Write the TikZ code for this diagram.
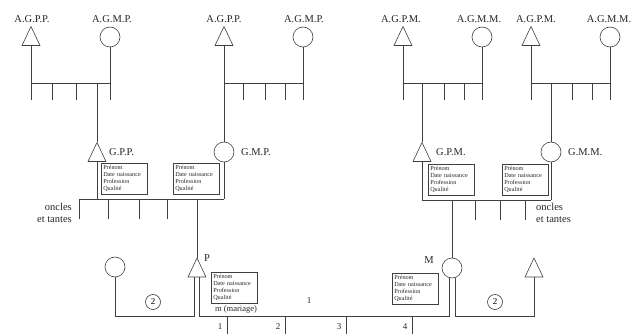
\documentclass[tikz,border=0pt]{standalone}
\usepackage{fontspec}
\setmainfont{Liberation Serif}
\begin{document}
\begin{tikzpicture}[x=1pt,y=-1pt,
  ln/.style={draw=black!75, line width=0.6pt},
  tri/.style={minimum width=18pt, minimum height=19pt, inner sep=0pt, outer sep=0pt,
    append after command={\pgfextra{\draw[ln, line join=miter] (\tikzlastnode.south west) -- (\tikzlastnode.north) -- (\tikzlastnode.south east) -- cycle;}}},
  circ/.style={circle, ln, minimum size=20pt, inner sep=0pt, outer sep=0pt},
  mark2/.style={circle, ln, minimum size=15pt, inner sep=0pt, font=\fontsize{9}{10}\selectfont},
  lab/.style={inner sep=0pt, font=\fontsize{10.5}{12}\selectfont, text=black!85},
  small/.style={inner sep=0pt, font=\fontsize{9}{10}\selectfont, text=black!85},
  infobox/.style={draw=black!75, line width=0.5pt, anchor=north west, minimum width=46pt, minimum height=31pt,
    text width=42pt, inner sep=2pt, align=left, font=\fontsize{6.2}{7}\selectfont, text=black!85},
]
\useasboundingbox (0,0) rectangle (643,334);

% ---------- top generation ----------
\node[tri]  (tA1) at (31,36) {};
\node[circ] (cA1) at (110,37) {};
\node[tri]  (tA2) at (224,36) {};
\node[circ] (cA2) at (303,37) {};
\node[tri]  (tA3) at (403,36) {};
\node[circ] (cA3) at (482,37) {};
\node[tri]  (tA4) at (531,36) {};
\node[circ] (cA4) at (610,37) {};

\node[lab] (lA1) at (32,19) {A.G.P.P.};
\node[lab] (lB1) at (112,19) {A.G.M.P.};
\node[lab] (lA2) at (224,19) {A.G.P.P.};
\node[lab] (lB2) at (304,19) {A.G.M.P.};
\node[lab] (lA3) at (401,19) {A.G.P.M.};
\node[lab] (lB3) at (479,19) {A.G.M.M.};
\node[lab] (lA4) at (536,19) {A.G.P.M.};
\node[lab] (lB4) at (609,19) {A.G.M.M.};

\coordinate (tb) at (0,83);
\coordinate (te) at (0,100);

% ---------- middle generation ----------
\node[tri]  (gpp) at (97,152) {};
\node[circ] (gmp) at (224,152) {};
\node[tri]  (gpm) at (422,152) {};
\node[circ] (gmm) at (551,152) {};

\node[lab, anchor=west] (lgpp) at (109,152) {G.P.P.};
\node[lab, anchor=west] (lgmp) at (241,152) {G.M.P.};
\node[lab, anchor=west] (lgpm) at (436,152) {G.P.M.};
\node[lab, anchor=west] (lgmm) at (568,152) {G.M.M.};

\node[infobox] (b1) at (101,163) {Prénom\\Date naissance\\Profession\\Qualité};
\node[infobox] (b2) at (173,163) {Prénom\\Date naissance\\Profession\\Qualité};
\node[infobox] (b3) at (428,164) {Prénom\\Date naissance\\Profession\\Qualité};
\node[infobox] (b4) at (502,164) {Prénom\\Date naissance\\Profession\\Qualité};

% top families
\draw[ln] (tA1.south) -- (tA1 |- te);
\draw[ln] (cA1.south) -- (cA1 |- te);
\draw[ln] (tA1 |- tb) -- (cA1 |- tb);
\foreach \x in {52,76} \draw[ln] (\x,83) -- (\x,100);
\draw[ln] (gpp |- tb) -- (gpp.north);

\draw[ln] (tA2.south) -- (gmp.north);
\draw[ln] (cA2.south) -- (cA2 |- te);
\draw[ln] (tA2 |- tb) -- (cA2 |- tb);
\foreach \x in {243,265,285} \draw[ln] (\x,83) -- (\x,100);

\draw[ln] (tA3.south) -- (tA3 |- te);
\draw[ln] (cA3.south) -- (cA3 |- te);
\draw[ln] (tA3 |- tb) -- (cA3 |- tb);
\foreach \x in {444,464} \draw[ln] (\x,83) -- (\x,100);
\draw[ln] (gpm |- tb) -- (gpm.north);

\draw[ln] (tA4.south) -- (tA4 |- te);
\draw[ln] (cA4.south) -- (cA4 |- te);
\draw[ln] (tA4 |- tb) -- (cA4 |- tb);
\foreach \x in {572,592} \draw[ln] (\x,83) -- (\x,100);
\draw[ln] (gmm |- tb) -- (gmm.north);

% ---------- bottom generation ----------
\node[tri]  (P) at (197,267.5) {};
\node[circ] (M) at (452,268) {};
\node[circ] (wP) at (115,267) {};
\node[tri]  (hM) at (534,267.5) {};
\node[lab, anchor=west] (lP) at (204,258) {P};
\node[lab, anchor=east] (lM) at (434,260) {M};

\node[infobox] (bP) at (211,272) {Prénom\\Date naissance\\Profession\\Qualité};
\node[infobox] (bM) at (392,273) {Prénom\\Date naissance\\Profession\\Qualité};

\node[mark2] (m2L) at (153,302) {2};
\node[mark2] (m2R) at (495,302) {2};

% middle families
\coordinate (mbL) at (0,199);
\coordinate (meL) at (0,219);
\draw[ln] (gpp.south) -- (gpp |- mbL);
\draw[ln] (gmp.south) -- (gmp |- mbL);
\draw[ln] (79,199) -- (gmp |- mbL);
\foreach \x in {79,108,139,167} \draw[ln] (\x,199) -- (\x,219);
\draw[ln] (P |- mbL) -- (P.north);

\coordinate (mbR) at (0,200);
\draw[ln] (gpm.south) -- (gpm |- mbR);
\draw[ln] (gmm.south) -- (gmm |- mbR);
\draw[ln] (gpm |- mbR) -- (gmm |- mbR);
\foreach \x in {475,500,525} \draw[ln] (\x,200) -- (\x,220);
\draw[ln] (M |- mbR) -- (M.north);

\node[lab, anchor=east, align=right] (ocL) at (72,213) {oncles\\et tantes};
\node[lab, anchor=west, align=left] (ocR) at (536,213) {oncles\\et tantes};

% marriages
\coordinate (ml) at (0,316);
\draw[ln] ([xshift=-2.5pt]P.south) -- ([xshift=-2.5pt]P.south |- ml) -| (wP.south);
\draw[ln] ([xshift=2.5pt]P.south) -- ([xshift=2.5pt]P.south |- ml) -| ([xshift=-3pt]M.south);
\draw[ln] ([xshift=3pt]M.south) -- ([xshift=3pt]M.south |- ml) -| (hM.south);

\node[small] (one) at (309,301) {1};
\node[small, font=\fontsize{8.5}{10}\selectfont] (mar) at (236,309) {m (mariage)};

\foreach \x/\n in {227/1,285/2,346/3,412/4} {
  \draw[ln] (\x,316) -- (\x,334);
  \node[small] (n\n) at (\x-7,327) {\n};
}
\end{tikzpicture}
\end{document}
